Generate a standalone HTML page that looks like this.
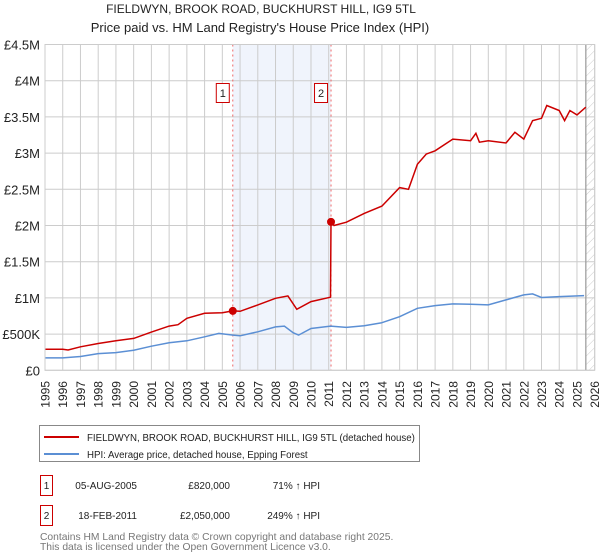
<!DOCTYPE html>
<html><head><meta charset="utf-8"><style>
body{margin:0;background:#fff;width:600px;height:560px;overflow:hidden;font-family:"Liberation Sans",sans-serif}
svg{display:block}
</style></head><body>
<svg id="chart" width="600" height="560" viewBox="0 0 600 560" font-family="Liberation Sans, sans-serif">
<defs>
<pattern id="hatch" patternUnits="userSpaceOnUse" width="6" height="6" patternTransform="rotate(45)">
<line x1="0" y1="0" x2="0" y2="6" stroke="#ccc" stroke-width="1"/></pattern>
</defs>
<text x="261" y="13" text-anchor="middle" font-size="12" fill="#222">FIELDWYN, BROOK ROAD, BUCKHURST HILL, IG9 5TL</text>
<text x="260" y="32" text-anchor="middle" font-size="13" fill="#222">Price paid vs. HM Land Registry's House Price Index (HPI)</text>
<g id="grid"></g>
<g id="marks"></g>
<g id="axes"></g>
<g>
<rect x="39.5" y="425.5" width="380" height="36" fill="#fff" stroke="#888"/>
<line x1="44" y1="437" x2="79" y2="437" stroke="#cc0000" stroke-width="2"/>
<text x="87" y="441" font-size="9.7" fill="#222">FIELDWYN, BROOK ROAD, BUCKHURST HILL, IG9 5TL (detached house)</text>
<line x1="44" y1="454" x2="79" y2="454" stroke="#5b8fd4" stroke-width="2"/>
<text x="87" y="458" font-size="9.7" fill="#222">HPI: Average price, detached house, Epping Forest</text>
</g>
<g font-size="10" fill="#222">
<rect x="40.5" y="475.5" width="12" height="20" fill="#fff" stroke="#cc0000"/>
<text x="46.5" y="489" text-anchor="middle">1</text>
<text x="137" y="489" text-anchor="end">05-AUG-2005</text>
<text x="230" y="489" text-anchor="end">£820,000</text>
<text x="320" y="489" text-anchor="end">71% ↑ HPI</text>
<rect x="40.5" y="505.5" width="12" height="20" fill="#fff" stroke="#cc0000"/>
<text x="46.5" y="519" text-anchor="middle">2</text>
<text x="137" y="519" text-anchor="end">18-FEB-2011</text>
<text x="230" y="519" text-anchor="end">£2,050,000</text>
<text x="320" y="519" text-anchor="end">249% ↑ HPI</text>
</g>
<text x="40" y="540" font-size="10.3" fill="#777">Contains HM Land Registry data © Crown copyright and database right 2025.</text>
<text x="40" y="550" font-size="10.3" fill="#777">This data is licensed under the Open Government Licence v3.0.</text>
</svg>
<script>
const hpiYears=[1995,1996,1997,1998,1999,2000,2001,2002,2003,2004,2004.8,2005.6,2006,2007,2008,2008.5,2009,2009.3,2010,2011.1,2012,2013,2014,2015,2016,2017,2018,2019,2020,2021,2022,2022.5,2023,2024,2025.4];
const hpiValues=[171,171,190,231,245,278,333,380,407,463,509,486,477,532,600,611,518,486,578,611,592,616,657,740,856,893,917,912,903,972,1042,1055,1005,1018,1032];
const priceYears=[1995,1996,1996.3,1997,1998,1999,2000,2001,2002,2002.5,2003,2004,2005,2005.59,2006,2007,2008,2008.7,2009.2,2010,2011.1,2011.13,2011.3,2012,2013,2014,2015,2015.5,2016,2016.5,2017,2018,2019,2019.3,2019.5,2020,2021,2021.5,2022,2022.5,2023,2023.3,2024,2024.3,2024.6,2025,2025.5];
const priceValues=[292,292,280,324,370,407,440,528,611,630,718,787,796,820,815,903,995,1028,843,949,1009,2050,2000,2046,2167,2268,2523,2500,2847,2986,3032,3194,3171,3273,3150,3171,3139,3287,3194,3449,3481,3657,3588,3449,3588,3528,3634];
const saleYears=[2005.59,2011.13];
const saleValues=[820,2050];
const saleLabels=["1","2"];
const yTicks=[0,500,1000,1500,2000,2500,3000,3500,4000,4500];
const yTickLabels=["£0","£500K","£1M","£1.5M","£2M","£2.5M","£3M","£3.5M","£4M","£4.5M"];
const xTicks=[1995,1996,1997,1998,1999,2000,2001,2002,2003,2004,2005,2006,2007,2008,2009,2010,2011,2012,2013,2014,2015,2016,2017,2018,2019,2020,2021,2022,2023,2024,2025,2026];

const X0=45,X1=594.7,Y0=370.3,Y1=44.5;
const xs=y=>X0+(y-1995)/(2026-1995)*(X1-X0);
const ys=v=>Y0-v/4500*(Y0-Y1);
const NS="http://www.w3.org/2000/svg";
function mk(tag,attrs,parent){const e=document.createElementNS(NS,tag);for(const k in attrs)e.setAttribute(k,attrs[k]);parent.appendChild(e);return e;}
const grid=document.getElementById('grid'),marks=document.getElementById('marks'),axes=document.getElementById('axes');

let sh=mk('rect',{x:xs(saleYears[0]),y:Y1,width:xs(saleYears[1])-xs(saleYears[0]),height:Y0-Y1,fill:'#f0f4fc'},grid);


const hx=xs(2025.5);
let ht=mk('rect',{x:hx,y:Y1,width:X1-hx,height:Y0-Y1,fill:'url(#hatch)'},grid);


xTicks.forEach(t=>{const l=mk('line',{x1:xs(t),x2:xs(t),y1:Y1,y2:Y0,stroke:'#ccc','stroke-width':1},grid);

});
yTicks.forEach(t=>{const l=mk('line',{x1:X0,x2:X1,y1:ys(t),y2:ys(t),stroke:'#ccc','stroke-width':1},grid);

});
let dl=mk('line',{x1:hx,x2:hx,y1:Y1,y2:Y0,stroke:'#999','stroke-width':1.2},grid);



saleYears.forEach((s,i)=>{
 const l=mk('line',{x1:xs(s),x2:xs(s),y1:Y1,y2:Y0,stroke:'#e66','stroke-width':1,'stroke-dasharray':'2,3'},marks);
 
 
 const r=mk('rect',{x:xs(s)-16.5,y:83.5,width:13,height:19,fill:'#fff',stroke:'#cc0000'},marks);
 
 
 const t=mk('text',{x:xs(s)-10,y:97,'text-anchor':'middle','font-size':11,fill:'#222'},marks);
 t.textContent=saleLabels[i];
});
function path(xa,va){return xa.map((x,i)=>(i?'L':'M')+xs(x).toFixed(1)+','+ys(va[i]).toFixed(1)).join('');}
let hp=mk('path',{d:path(hpiYears,hpiValues),fill:'none',stroke:'#5b8fd4','stroke-width':1.5},marks);


let pp=mk('path',{d:path(priceYears,priceValues),fill:'none',stroke:'#cc0000','stroke-width':1.5},marks);


saleYears.forEach((s,i)=>{const c=mk('circle',{cx:xs(s),cy:ys(saleValues[i]),r:4,fill:'#cc0000'},marks);

});

let fr=mk('rect',{x:X0,y:Y1,width:X1-X0,height:Y0-Y1,fill:'none',stroke:'#ccc'},axes);


yTicks.forEach((t,i)=>{const e=mk('text',{x:40,y:ys(t)+5,'text-anchor':'end','font-size':13,fill:'#222'},axes);e.textContent=yTickLabels[i];

});
xTicks.forEach(t=>{const x=xs(t)+4.5;const e=mk('text',{x:x,y:381,'text-anchor':'end','font-size':12,fill:'#222',transform:'rotate(-90 '+x+' 381)'},axes);e.textContent=t;

});
</script>
</body></html>
